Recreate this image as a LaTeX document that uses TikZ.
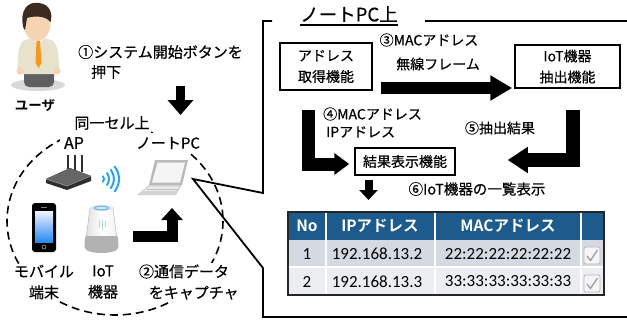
\documentclass[tikz,border=0pt]{standalone}
\usepackage{fontspec}
\setmainfont{Noto Sans CJK JP}[BoldFont={Noto Sans CJK JP Bold}]
\newfontfamily\jpfont{Noto Sans CJK JP}[FakeBold=0.45]
\newfontfamily\tabfont{Carlito}
\usetikzlibrary{arrows.meta}
\definecolor{hdrblue}{HTML}{1D5B8C}
\definecolor{rowone}{HTML}{D5DAE2}
\definecolor{rowtwo}{HTML}{EBEDF1}
\definecolor{skin}{HTML}{F6D3B3}
\definecolor{hair}{HTML}{3B2B20}
\definecolor{shirt}{HTML}{E8E1CB}
\definecolor{tie}{HTML}{F29A1E}
\definecolor{wifi}{HTML}{2AA3EE}
\definecolor{router}{HTML}{2E2E2E}
\tikzset{
  lbl/.style={inner sep=1pt, font=\jpfont\fontsize{15}{19}\selectfont},
  lblw/.style={lbl, fill=white},
  rlbl/.style={inner sep=1pt, font=\jpfont\fontsize{14}{18}\selectfont},
  funcbox/.style={draw, line width=1.5pt, fill=white, align=center,
    font=\jpfont\fontsize{14}{21}\selectfont, inner sep=0pt},
  blockarrow/.style={draw=black, line width=#1, line join=miter},
  frameline/.style={line width=1.8pt, line join=miter},
  hdr/.style={text=white, font=\bfseries\fontsize{15.5}{18}\selectfont, inner sep=0pt},
  cell/.style={font=\tabfont\fontsize{17}{20}\selectfont, inner sep=0pt},
  cellsep/.style={white, line width=1.2pt},
  chkbox/.style={draw=gray!55, fill=gray!8, rounded corners=2pt, line width=0.8pt},
  chkmark/.style={draw=gray!75, line width=1.3pt},
}
\begin{document}
\begin{tikzpicture}[x=1pt,y=-1pt]
\useasboundingbox (0,0) rectangle (627,322);

% ---------------- user ----------------
\fill[gray!30] (38,85) ellipse [x radius=27, y radius=6];
\fill[gray!75!black, rounded corners=5pt] (24,64) rectangle (54,87);
\fill[black!80] (24,66) rectangle (54,69);
\fill[shirt, rounded corners=7pt] (17,74) -- (19,44) -- (27,38) -- (49,38) -- (57,44) -- (60,74) -- cycle;
\fill[skin] (20,71) circle (3.5);
\fill[skin] (57,71) circle (3.5);
\fill[white] (31,38) -- (38,44) -- (45,38) -- cycle;
\fill[tie] (36.5,41) -- (40,41) -- (41.5,63) -- (38.5,68) -- (35.5,63) -- cycle;
\fill[skin] (37,23) ellipse [x radius=13.5, y radius=18];
\fill[hair] (23.5,28) .. controls (19,10) and (28,1) .. (39,3)
  .. controls (50,4) and (53,14) .. (50.5,22)
  .. controls (45,15) and (33,16) .. (27,18) -- (25,30) -- cycle;
\node[font=\bfseries\fontsize{13.5}{16}\selectfont, inner sep=0pt] (user) at (35,106) {ユーザ};

% step 1
\node[lbl, anchor=west] (s1a) at (77,52) {①システム開始ボタンを};
\node[lbl, anchor=west] (s1b) at (90,72) {押下};
\coordinate (a1s) at (180.5,86);
\coordinate (a1e) at (180.5,115);
\draw[blockarrow=9pt, -{Triangle[width=25pt,length=15pt]}] (a1s) -- (a1e);

% ---------------- same cell ----------------
\draw[line width=1.6pt, dash pattern=on 8pt off 5pt] (115,221) ellipse [x radius=108, y radius=94];
\node[lblw, inner ysep=3pt] (cell) at (112,123) {同一セル上};
\node[lblw, inner xsep=4pt, inner ysep=6pt, font=\jpfont\fontsize{16}{19}\selectfont] (ap) at (74,143) {AP};
\node[lblw, inner ysep=4pt] (pclbl) at (168,143) {ノートPC};
\node[lblw, align=center, font=\jpfont\fontsize{15}{21}\selectfont] (mobile) at (44,282) {モバイル\\端末};
\node[lblw, align=center, font=\jpfont\fontsize{15}{21}\selectfont] (iotlbl) at (103,282) {IoT\\機器};
\node[lblw, align=center, font=\jpfont\fontsize{15}{21}\selectfont] (s2) at (184,282) {②通信データ\\\hspace*{1.3em}をキャプチャ};

% router
\foreach \ax in {68,75,82}
  \draw[router, line width=2pt] (\ax,155) -- (\ax,172);
\fill[router] (46,179) -- (70,168) -- (91,176) -- (91,181) -- (67,190) -- (46,183) -- cycle;
\fill[black!60] (46,179) -- (70,168) -- (91,176) -- (67,186) -- cycle;
\draw[black!40, line width=0.5pt] (46,179) -- (67,186) -- (91,176);

% wifi waves
\foreach \r in {5,10,15,20}
  \draw[wifi, line width=2pt] ([shift={(-40:\r)}]99,179) arc [start angle=-40, end angle=40, radius=\r];

% laptop
\fill[gray!55] (155,160) -- (188,160) -- (182,185) -- (149,185) -- cycle;
\fill[gray!8] (157.5,162.5) -- (185,162.5) -- (180,182.5) -- (152,182.5) -- cycle;
\fill[gray!35] (149,185) -- (182,185) -- (176,195) -- (137,195) -- cycle;
\fill[gray!15] (150,186.5) -- (179,186.5) -- (176,191) -- (143,191) -- cycle;
\draw[gray!50, line width=0.4pt] (147,188.7) -- (177.5,188.7);
\coordinate (lap) at (193,179);

% phone
\fill[black, rounded corners=3pt] (32,203) rectangle (56,252);
\shade[top color=blue!5, bottom color=wifi!85!blue] (35,211) rectangle (53,242);
\draw[gray!70, line width=0.6pt] (44,247) circle (2);
\fill[gray] (41,207) rectangle (47,208);

% smart speaker
\shade[left color=gray!25, right color=gray!10, middle color=white, draw=gray!50, line width=0.6pt]
  (90,208) -- (113,208) -- (118,247) -- (85,247) -- cycle;
\fill[gray!60, rounded corners=2pt] (85,236) -- (118,236) -- (118.5,249) .. controls (110,254) and (93,254) .. (84.5,249) -- cycle;
\fill[gray!20] (101.5,208) ellipse [x radius=11.5, y radius=3];
\draw[wifi!70, line width=1.2pt] (101.5,208) ellipse [x radius=7, y radius=1.8];
\draw[wifi!40, line width=0.8pt] (99,220) -- (99,228) (102,219) -- (102,230) (105,221) -- (105,227);

% step 2 arrow
\coordinate (a2s) at (133,236);
\coordinate (a2e) at (172,208);
\draw[blockarrow=11pt, -{Triangle[width=21pt,length=12pt]}] (a2s) -| (a2e);

% ---------------- callout frame ----------------
\coordinate (f0) at (263,21);
\coordinate (f1) at (272,21);
\coordinate (f2) at (425,21);
\coordinate (f3) at (627,21);
\coordinate (fa) at (263,193);
\coordinate (fb) at (263,268);
\coordinate (fc) at (263,317);
\coordinate (fd) at (627,317);
\draw[frameline] (f1) -- (f0) -- (fa) -- (lap) -- (fb) -- (fc) -- (fd);
\draw[frameline] (f2) -- (f3);
\node[inner sep=0pt, font=\jpfont\fontsize{18.5}{20}\selectfont] (title) at (349,14) {ノートPC上};
\draw[line width=1.5pt] (title.south west) ++(0,3) -- ([yshift=-3pt]title.south east);

% functional blocks
\node[funcbox, minimum width=92pt, minimum height=47pt] (get) at (326,66.5) {アドレス\\取得機能};
\node[funcbox, minimum width=105pt, minimum height=43pt] (iot) at (567.5,66.5) {IoT機器\\抽出機能};
\node[funcbox, minimum width=100pt, minimum height=27pt] (res) at (405,161.5) {結果表示機能};

\node[rlbl] (s3a) at (429,40) {③MACアドレス};
\node[rlbl] (s3b) at (438,64) {無線フレーム};
\coordinate (a3s) at ([xshift=8pt]get.east |- 0,88);
\coordinate (a3e) at ([xshift=-2pt]iot.west |- 0,88);
\draw[blockarrow=12pt, -{Triangle[width=24pt,length=22pt]}] (a3s) -- (a3e);

\node[rlbl, anchor=west] (s4a) at (322,114) {④MACアドレス};
\node[rlbl, anchor=west] (s4b) at (325,132) {IPアドレス};
\coordinate (a4s) at (308.5,110);
\coordinate (a4e) at ([xshift=-5pt]res.west |- 0,164);
\draw[blockarrow=13pt, -{Triangle[width=21pt,length=15pt]}] (a4s) |- (a4e);

\node[rlbl] (s5) at (500,128) {⑤抽出結果};
\coordinate (a5s) at (572.5,110);
\coordinate (a5e) at ([xshift=52pt]res.east |- 0,160);
\draw[blockarrow=14pt, -{Triangle[width=25pt,length=20pt]}] (a5s) |- (a5e);

\coordinate (a6s) at (368.5,180);
\coordinate (a6e) at (368.5,200);
\draw[blockarrow=8pt, -{Triangle[width=18pt,length=10pt]}] (a6s) -- (a6e);
\node[rlbl, font=\jpfont\fontsize{14.5}{18}\selectfont] (s6) at (477,189) {⑥IoT機器の一覧表示};

% ---------------- result table ----------------
\fill[hdrblue] (288,212) rectangle (604,240);
\fill[rowone] (288,240) rectangle (604,267);
\fill[rowtwo] (288,267) rectangle (604,295);
\foreach \cx in {326,435,581}
  \draw[cellsep] (\cx,212) -- (\cx,295);
\draw[cellsep] (288,267) -- (604,267);
\draw[line width=1.8pt, black!85] (288,212) rectangle (604,295);

\node[hdr] (hno) at (307,226) {No};
\node[hdr] (hip) at (380,226) {IPアドレス};
\node[hdr] (hmac) at (508,226) {MACアドレス};

\node[cell] (n1) at (307,254) {1};
\node[cell] (ip1) at (377,254) {192.168.13.2};
\node[cell] (mac1) at (508,254) {22:22:22:22:22:22};
\node[cell] (n2) at (307,281.5) {2};
\node[cell] (ip2) at (377,281.5) {192.168.13.3};
\node[cell] (mac2) at (508,281.5) {33:33:33:33:33:33};

\foreach \cy in {247,275}{
  \draw[chkbox] (584,\cy) rectangle (600,\cy+17);
  \draw[chkmark] (587,\cy+9) -- (590.5,\cy+13.5) -- (597.5,\cy+3);
}
\end{tikzpicture}
\end{document}
